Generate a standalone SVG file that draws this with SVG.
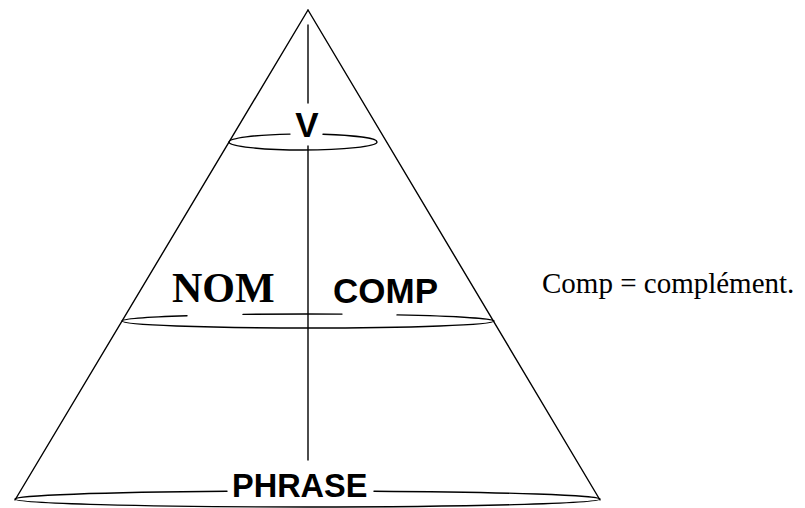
<svg xmlns="http://www.w3.org/2000/svg" width="805" height="508" viewBox="0 0 805 508">
<style>
.ln{fill:none;stroke:#000;stroke-width:1.4;stroke-linecap:round}
.sans{font-family:"Liberation Sans",Arial,sans-serif;font-weight:bold;fill:#000}
.serif{font-family:"Liberation Serif","Times New Roman",serif;fill:#000}
</style>
<rect width="805" height="508" fill="#fff"/>
<g id="connectors">
<line class="ln" x1="308" y1="10" x2="15" y2="500"/>
<line class="ln" x1="308" y1="10" x2="600" y2="500"/>
<line class="ln" x1="308" y1="25" x2="308" y2="103"/>
<line class="ln" x1="308" y1="146" x2="308" y2="460"/>
</g>
<g id="node-v">
<path class="ln" d="M229 142 A74 8 0 0 1 290 134.1 M323 134.3 A74 8 0 0 1 377 142 M229 142 A74 8 0 0 0 377 142"/>
<text class="sans" x="307" y="137" font-size="35" text-anchor="middle">V</text>
</g>
<g id="node-nom-comp">
<path class="ln" d="M122 321 A186 7 0 0 1 187 315.7 M243 314.4 A186 7 0 0 1 342 314.1 M397 314.9 A186 7 0 0 1 494 321 M122 321 A186 7 0 0 0 494 321"/>
<text class="serif" x="172" y="302" font-size="42" font-weight="bold">NOM</text>
<text class="sans" x="333" y="303" font-size="35">COMP</text>
</g>
<g id="node-phrase">
<path class="ln" d="M15 499 A292.5 8 0 0 1 227 491.3 M374 491.2 A292.5 8 0 0 1 600 499 M15 499 A292.5 8 0 0 0 600 499"/>
<text class="sans" x="232" y="497" font-size="32.5">PHRASE</text>
</g>
<g id="note">
<text class="serif" x="542" y="293" font-size="29">Comp = complément.</text>
</g>
</svg>
